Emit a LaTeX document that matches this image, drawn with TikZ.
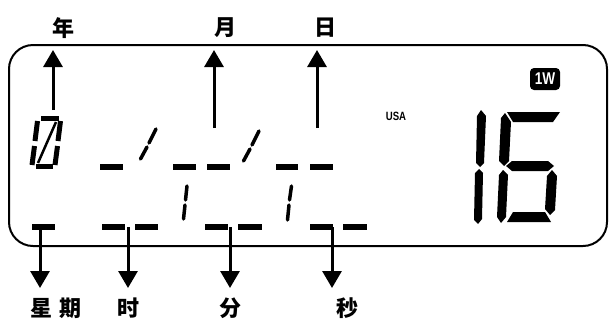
\documentclass[tikz,border=0pt]{standalone}
\usepackage{fontspec}
\usepackage{tikz}
\usetikzlibrary{arrows.meta}
\newfontfamily\cjk{Noto Sans CJK SC}
\newfontfamily\lcdsans{Liberation Sans}[FakeStretch=0.8]

\begin{document}
\begin{tikzpicture}[
    x=1pt, y=-1pt,
    cnlabel/.style={font=\cjk\bfseries\fontsize{22}{22}\selectfont, inner sep=0pt},
    lcdframe/.style={draw, line width=2pt, rounded corners=24pt},
    arrow/.style={-{Triangle[width=19pt,length=17pt]}, line width=3pt},
    hseg/.style={line width=6pt, line cap=rect},
    dseg/.style={line width=3.5pt, line cap=round},
    oseg/.style={line width=5pt},
    bigseg/.style={fill=black},
    badge/.style={fill=black, text=white, rounded corners=4pt,
                  minimum width=30pt, minimum height=22pt, inner sep=1pt,
                  font=\lcdsans\bfseries\fontsize{17}{17}\selectfont},
  ]
    \useasboundingbox (0,0) rectangle (609,322);

    % LCD frame
    \draw[lcdframe] (9,45) rectangle (607,246);

    % Top labels
    \node[cnlabel] (YEAR) at (63,28) {年};
    \node[cnlabel] (MONTH) at (225,28) {月};
    \node[cnlabel] (DAY) at (325,28) {日};

    % Bottom labels
    \node[cnlabel] (WEEK) at (56,308) {星\hspace{7pt}期};
    \node[cnlabel] (HOUR) at (128,308) {时};
    \node[cnlabel] (MIN) at (230,308) {分};
    \node[cnlabel] (SEC) at (347,308) {秒};

    % Arrow anchors
    \coordinate (YEAR_SEG) at (53,110);
    \coordinate (MONTH_SEG) at (214,128);
    \coordinate (DAY_SEG) at (317,128);
    \coordinate (YEAR_TIP) at (53,50);
    \coordinate (MONTH_TIP) at (214,50);
    \coordinate (DAY_TIP) at (317,50);
    \coordinate (WEEK_SEG) at (40,227);
    \coordinate (HOUR_SEG) at (128,227);
    \coordinate (MIN_SEG) at (230,227);
    \coordinate (SEC_SEG) at (332,227);
    \coordinate (WEEK_TIP) at (40,288);
    \coordinate (HOUR_TIP) at (128,288);
    \coordinate (MIN_TIP) at (230,288);
    \coordinate (SEC_TIP) at (332,288);

    \draw[arrow] (YEAR_SEG) -- (YEAR_TIP);
    \draw[arrow] (MONTH_SEG) -- (MONTH_TIP);
    \draw[arrow] (DAY_SEG) -- (DAY_TIP);
    \draw[arrow] (WEEK_SEG) -- (WEEK_TIP);
    \draw[arrow] (HOUR_SEG) -- (HOUR_TIP);
    \draw[arrow] (MIN_SEG) -- (MIN_TIP);
    \draw[arrow] (SEC_SEG) -- (SEC_TIP);

    % Year digit 0
    \draw[oseg] (41,118.5) -- (59,118.5);
    \draw[oseg] (37.5,121) -- (35,141);
    \draw[oseg] (60.5,121) -- (58,141);
    \draw[oseg] (34.5,146) -- (32,165);
    \draw[oseg] (57.5,146) -- (55,165);
    \draw[oseg] (36,166.5) -- (53,166.5);
    \draw[line width=2.5pt] (38,163) -- (56,122);

    % Date row
    \foreach \a/\b in {103/120, 176/193, 210/227, 279/295, 313/330}
      \draw[hseg] (\a,167) -- (\b,167);
    \draw[dseg] (140.5,159) -- (147,147);
    \draw[dseg] (149,143) -- (156,129);
    \draw[dseg] (243.5,161) -- (250,149);
    \draw[dseg] (252,145) -- (259,131);

    % Time row
    \foreach \a/\b in {35/52, 105/122, 138/155, 208/225, 241/259, 313/330, 346/364}
      \draw[hseg] (\a,227) -- (\b,227);
    \draw[dseg] (183.5,219) -- (185,205);
    \draw[dseg] (185.5,200) -- (187,186);
    \draw[dseg] (287.5,220) -- (289,205);
    \draw[dseg] (289.5,200) -- (291.5,186);

    % Badge and region
    \node[badge] (BADGE) at (545,79) {1W};
    \node[font=\lcdsans\bfseries\fontsize{12}{12}\selectfont] (USA) at (396,116) {USA};

    % Big 16
    \fill[bigseg] (481,110) -- (486,116) -- (484,163) -- (480,167) -- (476,163) -- (477,116) -- cycle;
    \fill[bigseg] (479,169) -- (483,173) -- (482,219) -- (478,224) -- (474,220) -- (475,173) -- cycle;
    \fill[bigseg] (507,112) -- (560,112) -- (553,122) -- (513,122) -- cycle;
    \fill[bigseg] (505,113) -- (511,122) -- (509,161) -- (504,166) -- (499,161) -- (501,118) -- cycle;
    \fill[bigseg] (506,166) -- (512,161) -- (548,161) -- (554,166) -- (548,171) -- (512,171) -- cycle;
    \fill[bigseg] (552,170) -- (557,176) -- (555,210) -- (550,215) -- (545,209) -- (547,176) -- cycle;
    \fill[bigseg] (503,170) -- (508,175) -- (506,217) -- (501,223) -- (497,217) -- (499,175) -- cycle;
    \fill[bigseg] (507,222) -- (513,212) -- (545,212) -- (551,222) -- cycle;
\end{tikzpicture}
\end{document}
